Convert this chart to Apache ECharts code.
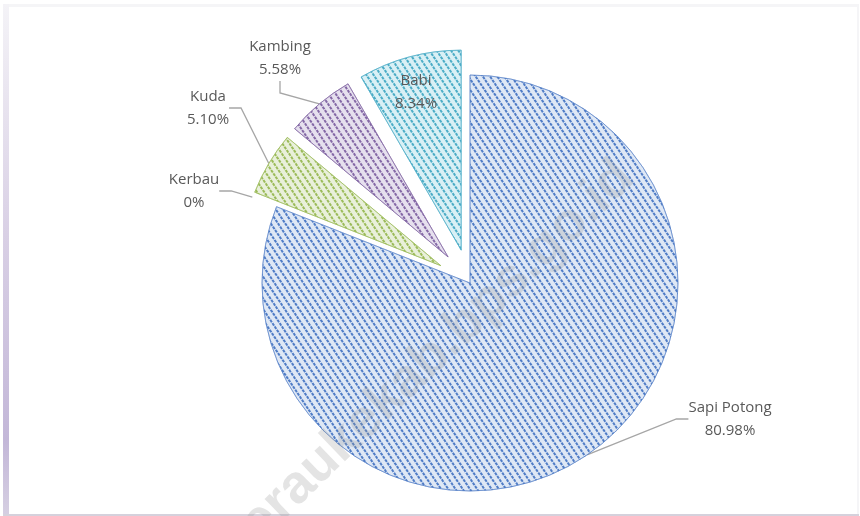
<!DOCTYPE html>
<html>
<head>
<meta charset="utf-8">
<script src="https://cdn.jsdelivr.net/npm/echarts@6/dist/echarts.min.js"></script>
<style>
html,body{margin:0;padding:0;background:#fff;}
#chart{width:860px;height:516px;}
</style>
</head>
<body>
<div id="chart"></div>
<script>
// Data
var categories = ['Sapi Potong', 'Kerbau', 'Kuda', 'Kambing', 'Babi'];
var shares = [80.98, 0, 5.10, 5.58, 8.34];

// Styles
var baseColors = ['#dfe8f5', '#e9f0db', '#e9f0db', '#e6e0ee', '#d9f0f5'];
var stripeColors = ['#4f7cc6', '#9bbb59', '#9bbb59', '#8468a6', '#4bacc6'];
var edgeColors = ['rgba(79,124,198,0.5)', 'rgba(155,187,89,0.6)', 'rgba(155,187,89,0.6)', 'rgba(128,100,162,0.6)', 'rgba(75,172,198,0.6)'];
var labelPos = [[730, 419], [194, 191], [208, 108], [280, 58], [416, 92]];
var explode = [0, 34, 34, 34, 34];
var radii = [208, 200, 200, 200, 200];
var insideLabel = [false, false, false, false, true];
var CX = 470, CY = 283;

function decalFor(c) {
  return {
    symbol: 'rect',
    symbolSize: 1,
    dashArrayX: [[3, 1]],
    dashArrayY: [1.4, 3.2],
    rotation: Math.PI / 3.2,
    color: c
  };
}
function fmt(p) {
  var v = shares[p.dataIndex];
  return p.name + '\n' + (v === 0 ? '0' : v.toFixed(2)) + '%';
}
var total = shares.reduce(function (a, b) { return a + b; }, 0);
var cum = 0;
var series = [];
categories.forEach(function (name, k) {
  var mid = (cum + shares[k] / 2) / total * 2 * Math.PI;
  cum += shares[k];
  var cx = CX + explode[k] * Math.sin(mid);
  var cy = CY - explode[k] * Math.cos(mid);
  var data = categories.map(function (c, i) {
    if (i !== k) {
      return {
        name: c, value: shares[i],
        itemStyle: { color: 'rgba(0,0,0,0)', borderWidth: 0, decal: { symbol: 'none' } },
        label: { show: false }, labelLine: { show: false }
      };
    }
    return {
      name: c, value: shares[i],
      itemStyle: {
        color: baseColors[i], decal: decalFor(stripeColors[i]),
        borderColor: edgeColors[i], borderWidth: shares[i] === 0 ? 0 : 1
      }
    };
  });
  series.push({
    type: 'pie',
    center: [cx, cy],
    radius: radii[k],
    startAngle: 90,
    clockwise: true,
    silent: true,
    z: 2,
    label: {
      show: true, position: 'outside',
      fontFamily: 'Open Sans', fontSize: 15, lineHeight: 23, color: '#595959',
      formatter: fmt
    },
    labelLine: {
      show: !insideLabel[k], length: 15, length2: 12,
      lineStyle: { color: '#a6a6a6', width: 1.3 }
    },
    labelLayout: function (params) {
      var p = labelPos[params.dataIndex];
      return { x: p[0], y: p[1], align: 'center', verticalAlign: 'middle' };
    },
    data: data
  });
});

var chart = echarts.init(document.getElementById('chart'), null, { renderer: 'canvas' });
chart.setOption({
  animation: false,
  aria: { enabled: true, decal: { show: true } },
  graphic: [
    { type: 'rect', shape: { x: 3, y: 4, width: 856, height: 512 }, style: { fill: '#f5f5f7' }, silent: true, z: -10 },
    { type: 'rect', shape: { x: 3, y: 4, width: 6, height: 512 }, silent: true, z: -9,
      style: { fill: new echarts.graphic.LinearGradient(0, 0, 0, 1, [
        { offset: 0, color: '#f4f3f7' }, { offset: 0.45, color: '#d9d0e5' },
        { offset: 0.85, color: '#c3b7d8' }, { offset: 1, color: '#d6cfe2' }]) } },
    { type: 'rect', shape: { x: 3, y: 514, width: 856, height: 2 }, style: { fill: '#d5d1dc' }, silent: true, z: -9 },
    { type: 'rect', shape: { x: 9, y: 7, width: 848, height: 507 }, style: { fill: '#ffffff' }, silent: true, z: -8 },
    { type: 'text', x: 626, y: 170, rotation: Math.PI / 4.1, silent: true, z: 100,
      style: { text: 'meraukekab.bps.go.id', fontFamily: 'Liberation Sans', fontWeight: 'bold', fontSize: 54,
        fill: 'rgba(150,150,150,0.26)', align: 'right', verticalAlign: 'middle' } }
  ],
  series: series
});
</script>
</body>
</html>
